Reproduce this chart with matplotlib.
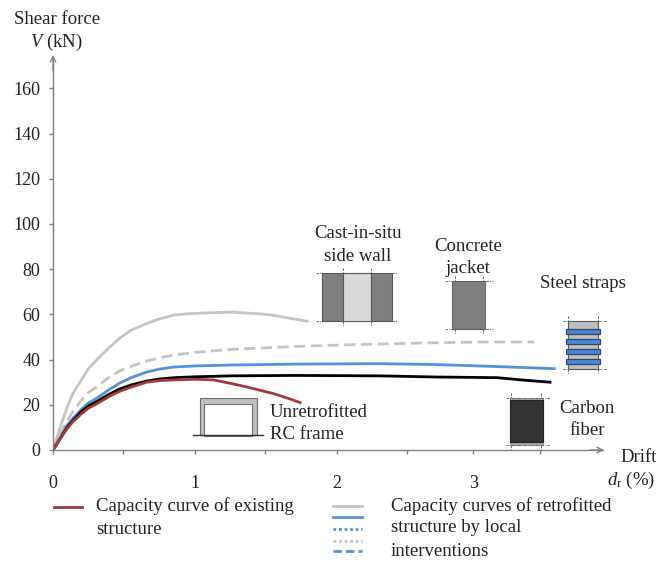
import matplotlib
matplotlib.use('Agg')
import matplotlib.pyplot as plt
from matplotlib.patches import Rectangle

plt.rcParams['font.family'] = ['Liberation Serif', 'DejaVu Serif']
plt.rcParams['mathtext.fontset'] = 'custom'
plt.rcParams['mathtext.it'] = 'Liberation Serif:italic'
plt.rcParams['mathtext.rm'] = 'Liberation Serif'

# curves (drift %, shear force kN)
grey_x = [0, 0.05, 0.1, 0.14, 0.2, 0.25, 0.31, 0.39, 0.47, 0.55, 0.66, 0.75, 0.85, 0.95, 1.06, 1.25, 1.45, 1.55, 1.65, 1.79]
grey_y = [0, 10, 19, 25, 31, 36, 40, 45, 49.5, 53, 56, 58, 59.7, 60.3, 60.6, 61, 60.3, 59.6, 58.5, 57]

dash_x = [0, 0.05, 0.1, 0.14, 0.2, 0.25, 0.31, 0.39, 0.47, 0.55, 0.66, 0.75, 0.85, 1.0, 1.25, 1.7, 2.1, 2.58, 3.0, 3.39]
dash_y = [0, 7, 13, 17, 22, 25.5, 28, 32, 35, 37, 39.4, 40.8, 42, 43.2, 44.5, 45.8, 46.6, 47.3, 47.8, 47.8]

blue_x = [0, 0.05, 0.1, 0.14, 0.2, 0.25, 0.31, 0.39, 0.47, 0.55, 0.66, 0.75, 0.85, 1.0, 1.25, 1.7, 2.3, 2.7, 3.0, 3.53]
blue_y = [0, 5.5, 11, 14, 18, 20.8, 23, 26.5, 29.6, 32, 34.5, 35.8, 36.7, 37.2, 37.6, 38, 38.2, 37.8, 37.2, 36]

black_x = [0, 0.05, 0.1, 0.14, 0.2, 0.25, 0.31, 0.39, 0.47, 0.55, 0.66, 0.75, 0.85, 1.0, 1.25, 1.7, 2.3, 2.7, 3.13, 3.3, 3.5]
black_y = [0, 5, 10, 13, 17, 19.5, 21.5, 24.5, 27, 28.8, 30.5, 31.4, 32, 32.4, 32.8, 33, 32.8, 32.3, 32, 31, 30]

red_x = [0, 0.05, 0.1, 0.14, 0.2, 0.25, 0.31, 0.39, 0.47, 0.55, 0.66, 0.75, 0.85, 1.0, 1.13, 1.25, 1.37, 1.55, 1.65, 1.74]
red_y = [0, 5, 9.5, 12.5, 16, 18.5, 20.5, 23.5, 26, 27.8, 30, 30.7, 31, 31.3, 31, 29.5, 27.8, 25, 23, 21]

y_ticks = [0, 20, 40, 60, 80, 100, 120, 140, 160]
x_ticks = [0, 0.49, 1, 1.49, 2, 2.49, 2.96, 3.43]
x_tick_labels = ['0', '', '1', '', '2', '', '3', '']

W, H = 666, 561
fig = plt.figure(figsize=(W / 100, H / 100), dpi=100)

# main axes, origin at pixel (53, 450)
ax = fig.add_axes([53 / W, (H - 450) / H, 550 / W, 393 / H])
ax.set_xlim(0, 550 / 142)
ax.set_ylim(0, 393 / 2.26)
ax.patch.set_alpha(0)
for s in ['top', 'right']:
    ax.spines[s].set_visible(False)
for s in ['left', 'bottom']:
    ax.spines[s].set_color('#808080')
    ax.spines[s].set_linewidth(1.0)

ax.plot(grey_x, grey_y, color='#c4c4c4', lw=2.0)
ax.plot(dash_x, dash_y, color='#c4c4c4', lw=2.0, ls=(0, (4, 2)))
ax.plot(blue_x, blue_y, color='#5590dc', lw=2.0)
ax.plot(black_x, black_y, color='black', lw=2.0)
ax.plot(red_x, red_y, color='#a33a3a', lw=2.0)

ax.set_yticks(y_ticks)
ax.set_xticks(x_ticks)
ax.set_xticklabels(x_tick_labels)
ax.tick_params(axis='both', color='#808080', length=3, width=1, labelsize=13,
               labelcolor='#222222')
ax.tick_params(axis='x', pad=15)
ax.tick_params(axis='y', pad=6)

# overlay in pixel coordinates for labels and the little sketches
ov = fig.add_axes([0, 0, 1, 1])
ov.set_xlim(0, W)
ov.set_ylim(H, 0)
ov.axis('off')
ov.patch.set_alpha(0)

arrow = dict(arrowstyle='->', color='#808080', lw=1.0, shrinkA=0, shrinkB=0)
ov.annotate('', xy=(53, 55), xytext=(53, 70), arrowprops=arrow)
ov.annotate('', xy=(604, 450), xytext=(590, 450), arrowprops=arrow)


def label(x, y, s, ha='left'):
    ov.text(x, y, s, ha=ha, va='center', fontsize=13.5, color='#222222')


label(14, 19, 'Shear force')
label(30, 42, r'$\mathit{V}$ (kN)')
label(620, 457, 'Drift')
label(607, 480, r'$\mathit{d}_{\mathrm{r}}$ (%)')
label(358, 233, 'Cast-in-situ', 'center')
label(358, 256, 'side wall', 'center')
label(468, 246, 'Concrete', 'center')
label(468, 268, 'jacket', 'center')
label(583, 283, 'Steel straps', 'center')
label(587, 408, 'Carbon', 'center')
label(587, 430, 'fiber', 'center')
label(270, 412, 'Unretrofitted')
label(270, 434, 'RC frame')
label(96, 506, 'Capacity curve of existing')
label(96, 529, 'structure')
label(391, 506, 'Capacity curves of retrofitted')
label(391, 528, 'structure by local')
label(391, 551, 'interventions')


def box(x0, y0, x1, y1, fc, ec='#595959', lw=0.8):
    ov.add_patch(Rectangle((x0, y0), x1 - x0, y1 - y0, fc=fc, ec=ec, lw=lw))


def guide(xs, ys):
    ov.plot(xs, ys, color='#555555', lw=0.6, ls=(0, (3, 1.5, 1, 1.5)))


# side wall
box(322, 273, 343, 321, '#7f7f7f')
box(343, 273, 371, 321, '#d9d9d9')
box(371, 273, 392, 321, '#7f7f7f')
for yy in (273, 321):
    guide([316, 398], [yy, yy])
for xx in (343, 371):
    guide([xx, xx], [268, 273])
    guide([xx, xx], [321, 326])

# concrete jacket
box(452, 281, 485, 329, '#7f7f7f', ec='#6a6a6a')
for yy in (281, 329):
    guide([445, 493], [yy, yy])
for xx in (455, 483):
    guide([xx, xx], [276, 281])
    guide([xx, xx], [329, 334])

# steel straps
box(568, 321, 598, 369, '#bfbfbf')
for yy in (331, 341, 351.5, 361):
    box(566, yy - 2.5, 600, yy + 2.5, '#4a86d8', ec='#33475f', lw=0.9)
for yy in (321, 369):
    guide([563, 607], [yy, yy])
for xx in (568, 598):
    guide([xx, xx], [316, 321])
    guide([xx, xx], [369, 374])

# carbon fibre
box(510, 398, 543, 445, '#a6a6a6', ec='#a6a6a6')
box(510, 400, 543, 442, '#333333', ec='#222222')
for yy in (398, 445):
    guide([506, 550], [yy, yy])
for xx in (511, 541):
    guide([xx, xx], [393, 398])
    guide([xx, xx], [445, 450])

# RC frame
box(200, 398, 257, 435, '#bfbfbf', ec='#707070')
ov.add_patch(Rectangle((204, 404), 48, 32, fc='white', ec='#707070', lw=0.8))
ov.plot([193, 263], [435, 435], color='#333333', lw=1.0)

# legend, drawn by hand like the original
ov.plot([54, 82], [507, 507], color='#a33a3a', lw=2.0)
ov.plot([333, 362], [506, 506], color='#c4c4c4', lw=2.0)
ov.plot([333, 362], [517, 517], color='#5590dc', lw=2.0)
ov.plot([333, 362], [529, 529], color='#5590dc', lw=2.0, ls=(0, (1, 1)))
ov.plot([333, 362], [541, 541], color='#c4c4c4', lw=2.0, ls=(0, (1, 1)))
ov.plot([333, 362], [551, 551], color='#5590dc', lw=2.0, ls=(0, (3, 1.5)))

fig.savefig('out.png', dpi=100)
